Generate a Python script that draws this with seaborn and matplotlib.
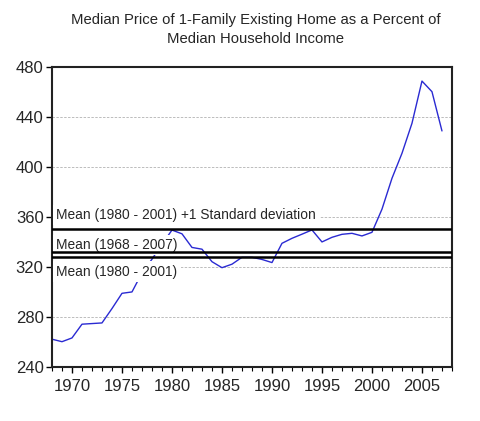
import numpy as np
import pandas as pd
import matplotlib
matplotlib.use('Agg')
import matplotlib.pyplot as plt
import seaborn as sns

# values
years = list(range(1968, 2008))
ratio = [262, 260, 263, 274, 274.5, 275, 286.5, 298.7, 299.8, 315,
         326, 338, 349.3, 346.3, 335.4, 334, 324, 319.2, 322, 327.5,
         327.5, 325.8, 323.3, 338.7, 342.7, 346, 349.4, 339.8, 343.5, 345.9,
         346.7, 344.6, 347.5, 366, 390.7, 410.7, 434.7, 468.5, 460, 428.6]

mean_levels = [350, 332, 328]
mean_labels = ['Mean (1980 - 2001) +1 Standard deviation',
               'Mean (1968 - 2007)',
               'Mean (1980 - 2001)']
label_y = [361.5, 337.5, 316]

y_ticks = [240, 280, 320, 360, 400, 440, 480]

df = pd.DataFrame({'year': years, 'ratio': ratio})

sns.set_style('white')
plt.rcParams['font.family'] = ['Liberation Sans', 'DejaVu Sans']

fig = plt.figure(figsize=(4.8, 4.21), dpi=100)
ax = fig.add_axes([0.1083, 0.129, 0.8333, 0.7126])

sns.lineplot(data=df, x='year', y='ratio', ax=ax, color='#2a2ad2',
             linewidth=1.0, zorder=2)

ax.set_xlim(1968, 2008)
ax.set_ylim(240, 480)
ax.set_yticks(y_ticks)
ax.set_xticks(range(1970, 2006, 5))
ax.set_xticks(range(1968, 2009), minor=True)

# dotted grid on inner y ticks
for v in y_ticks[1:-1]:
    ax.axhline(v, color='#bcbcbc', linestyle=(0, (2.5, 1.5)), linewidth=0.7, zorder=1)

for lev in mean_levels:
    ax.axhline(lev, color='black', linewidth=1.8, zorder=4)

for txt, yy in zip(mean_labels, label_y):
    ax.text(1968.45, yy, txt, fontsize=9.9, va='center', ha='left', zorder=3,
            bbox=dict(facecolor='white', edgecolor='none', pad=2.4))

ax.set_xlabel('')
ax.set_ylabel('')
ax.tick_params(axis='both', which='major', direction='out', length=4, width=1,
               labelsize=12, color='black')
ax.tick_params(axis='x', which='major', pad=5)
ax.tick_params(axis='y', which='major', pad=2)
ax.tick_params(axis='x', which='minor', direction='out', length=3, width=0.8,
               color='black')
ax.tick_params(left=True, bottom=True)
ax.tick_params(axis='x', which='minor', bottom=True)
for s in ax.spines.values():
    s.set_color('#222222')
    s.set_linewidth(1.5)

fig.text(0.533, 0.952, 'Median Price of 1-Family Existing Home as a Percent of',
         ha='center', va='center', fontsize=10.7)
fig.text(0.533, 0.907, 'Median Household Income', ha='center', va='center',
         fontsize=10.7)

fig.savefig('out.png', dpi=100)
